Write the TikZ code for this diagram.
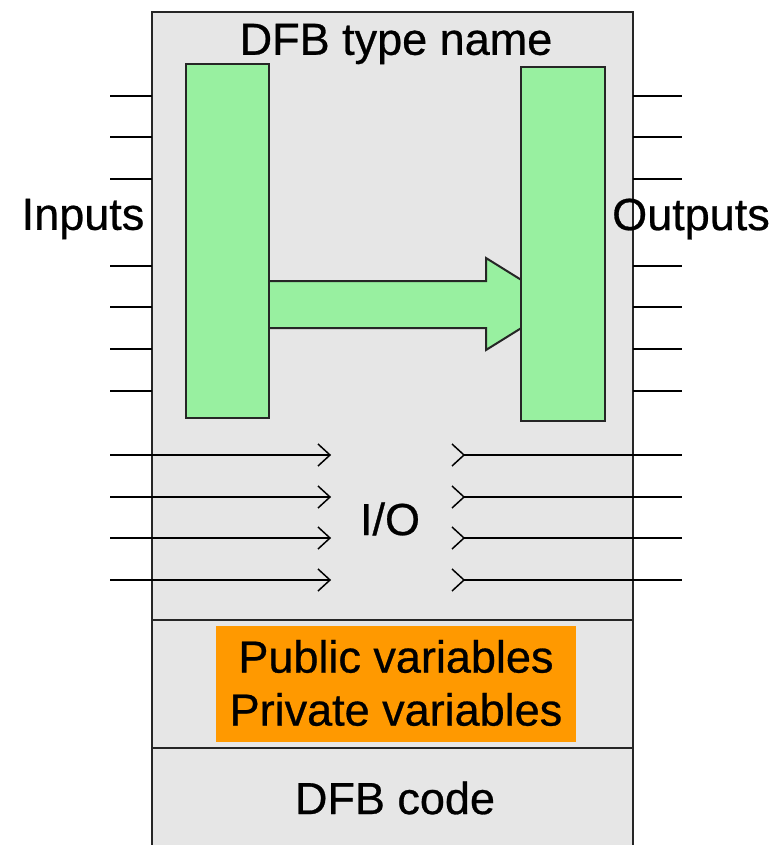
\documentclass[tikz,border=0pt]{standalone}
\usepackage{fontspec}
\setmainfont{Liberation Sans}
\newfontfamily\heavysans[FakeBold=0.6]{Liberation Sans}
\usetikzlibrary{arrows.meta}
\definecolor{boxgray}{RGB}{230,230,230}
\definecolor{pgreen}{RGB}{152,240,160}
\definecolor{porange}{RGB}{255,153,0}
\begin{document}
\begin{tikzpicture}[x=1pt,y=-1pt,
  frame/.style={draw=black!85,line width=2pt},
  pinline/.style={draw=black,line width=2pt},
  ioline/.style={draw=black,line width=2pt},
  chev/.style={draw=black,line width=1.5pt},
  greenbar/.style={draw=black!85,line width=2pt,fill=pgreen},
  lbl/.style={font=\heavysans\fontsize{45}{53}\selectfont,inner sep=0pt,align=center}]
\useasboundingbox (0,0) rectangle (771,845);
\fill[white] (0,0) rectangle (771,845);
% main block
\draw[frame,fill=boxgray] (152,12) rectangle (633,860);
\draw[frame] (152,620) -- (633,620);
\draw[frame] (152,748) -- (633,748);
% pins
\foreach \y in {96,137,179,266,307,349,391}{
  \coordinate (li) at (110,\y); \coordinate (lo) at (152,\y);
  \coordinate (ri) at (633,\y); \coordinate (ro) at (682,\y);
  \draw[pinline] (li) -- (lo);
  \draw[pinline] (ri) -- (ro);
}
% big arrow
\draw[greenbar,line join=miter] (268,281) -- (486,281) -- (486,258) -- (560,304) -- (486,350) -- (486,328) -- (268,328);
% green bars
\node[greenbar,minimum width=83,minimum height=354,inner sep=0pt,anchor=north west] (inbar) at (185,63) {};
\node[greenbar,minimum width=84,minimum height=354,inner sep=0pt,anchor=north west] (outbar) at (520,66) {};
% I/O lines
\foreach \y in {455,497,538,580}{
  \coordinate (a) at (110,\y); \coordinate (b) at (330,\y);
  \coordinate (c) at (464,\y); \coordinate (d) at (682,\y);
  \draw[ioline] (a) -- (b);
  \draw[chev] ([shift={(-12,-11)}]b) -- (b) -- ([shift={(-12,11)}]b);
  \draw[ioline] (c) -- (d);
  \draw[chev] ([shift={(-12,-11)}]c) -- (c) -- ([shift={(-12,11)}]c);
}
% orange box
\node[fill=porange,minimum width=360,minimum height=116,inner sep=0pt,anchor=north west] (vars) at (216,626) {};
% texts
\node[lbl] (title) at (396,44) {DFB type name};
\node[lbl] (inputs) at (83,219) {Inputs};
\node[lbl] (outputs) at (691,219) {Outputs};
\node[lbl] (io) at (390,519) {I/O};
\node[lbl] (vtext) at (396,683) {Public variables\\Private variables};
\node[lbl] (code) at (395,798) {DFB code};
\end{tikzpicture}
\end{document}
